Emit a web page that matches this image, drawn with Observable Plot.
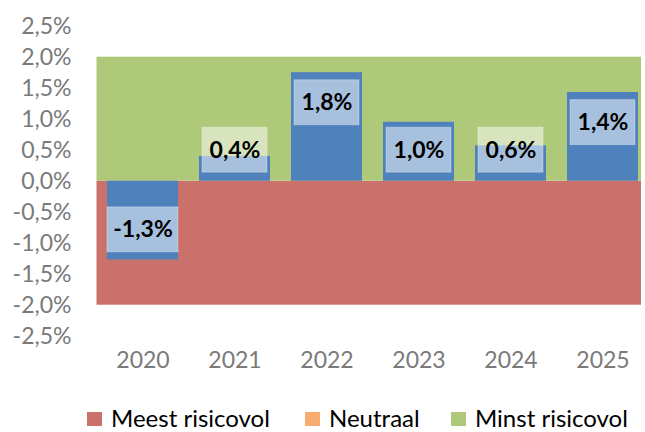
<!DOCTYPE html>
<html><head><meta charset="utf-8">
<script src="https://cdn.jsdelivr.net/npm/d3@7"></script>
<script src="https://cdn.jsdelivr.net/npm/@observablehq/plot@0.6"></script>
<style>
html,body{margin:0;padding:0;background:#fff}
body{width:645px;height:432px;overflow:hidden;position:relative;font-family:Lato,sans-serif}
#chart{position:absolute;left:0;top:0}
#legend{position:absolute;left:0;top:406px;width:645px;height:24px;font-size:24px;line-height:24px;color:#000}
.item{position:absolute;top:0;height:24px;display:flex;align-items:center;white-space:nowrap}
.sw{display:inline-block;width:15px;height:14px;margin-right:9px;margin-top:2px}
</style></head><body>
<div id="chart"></div>
<div id="legend"></div>
<script>
// ---- data ----
const years = ["2020", "2021", "2022", "2023", "2024", "2025"];
const returns = [-1.27, 0.40, 1.75, 0.95, 0.57, 1.43];
const labels = ["-1,3%", "0,4%", "1,8%", "1,0%", "0,6%", "1,4%"];
const yTicks = [-2.5, -2, -1.5, -1, -0.5, 0, 0.5, 1, 1.5, 2, 2.5];
const zones = ["Meest risicovol", "Neutraal", "Minst risicovol"];
const zoneColors = ["#CB716C", "#F9AC6F", "#AFC97A"];
const zoneLow = [-2, 0, 0];
const zoneHigh = [0, 0, 2];
const barColor = "#4F81BD";

// ---- derived tables ----
const zoneData = zones.map((z, i) => ({zone: z, lo: zoneLow[i], hi: zoneHigh[i]}));
// data-label boxes sit "inside end" of each bar, kept clear of the baseline
const OFFSET = 0.485, MINC = 0.5, HALF = 0.363;
const rows = years.map((y, i) => {
  const v = returns[i];
  const c = Math.sign(v) * Math.max(Math.abs(v) - OFFSET, MINC);
  return {year: y, value: v, label: labels[i], c, lo: c - HALF, hi: c + HALF};
});
const fmt = d => d.toFixed(1).replace(".", ",") + "%";

const chart = Plot.plot({
  width: 645,
  height: 400,
  marginLeft: 96.5,
  marginRight: 4,
  marginTop: 25.7,
  marginBottom: 64.3,
  style: {fontFamily: "Lato, sans-serif", fontSize: "23px", color: "#7A7A7A", background: "white", overflow: "visible"},
  x: {domain: years, range: [96.5, 649], paddingInner: 0.23, paddingOuter: 0.115, label: null},
  y: {domain: [-2.5, 2.5], label: null},
  color: {domain: zones, range: zoneColors},
  marks: [
    Plot.rect(zoneData, {y1: "lo", y2: "hi", fill: "zone"}),
    Plot.barY(rows, {x: "year", y: "value", fill: barColor}),
    Plot.barY(rows.filter(d => d.label.length > 4), {x: "year", y1: "lo", y2: "hi", fill: "white", fillOpacity: 0.5, stroke: "white", strokeOpacity: 0.3}),
    Plot.barY(rows.filter(d => d.label.length <= 4), {x: "year", y1: "lo", y2: "hi", fill: "white", fillOpacity: 0.5, stroke: "white", strokeOpacity: 0.3, insetLeft: 3, insetRight: 3}),
    Plot.text(rows, {x: "year", y: "c", text: "label", fill: "black", fontWeight: "bold", fontSize: 23}),
    Plot.axisY({ticks: yTicks, tickFormat: fmt, tickSize: 0, tickPadding: 25.5, fontSize: 23}),
    Plot.axisX({tickSize: 0, tickPadding: 15, fontSize: 23})
  ]
});
document.getElementById("chart").appendChild(chart);

// ---- legend ----
const legendLeft = [87, 305, 451];
const legend = document.getElementById("legend");
zones.forEach((z, i) => {
  const it = document.createElement("div");
  it.className = "item";
  it.style.left = legendLeft[i] + "px";
  const sw = document.createElement("span");
  sw.className = "sw";
  sw.style.background = zoneColors[i];
  const tx = document.createElement("span");
  tx.textContent = z;
  it.appendChild(sw); it.appendChild(tx);
  legend.appendChild(it);
});
</script>
</body></html>
